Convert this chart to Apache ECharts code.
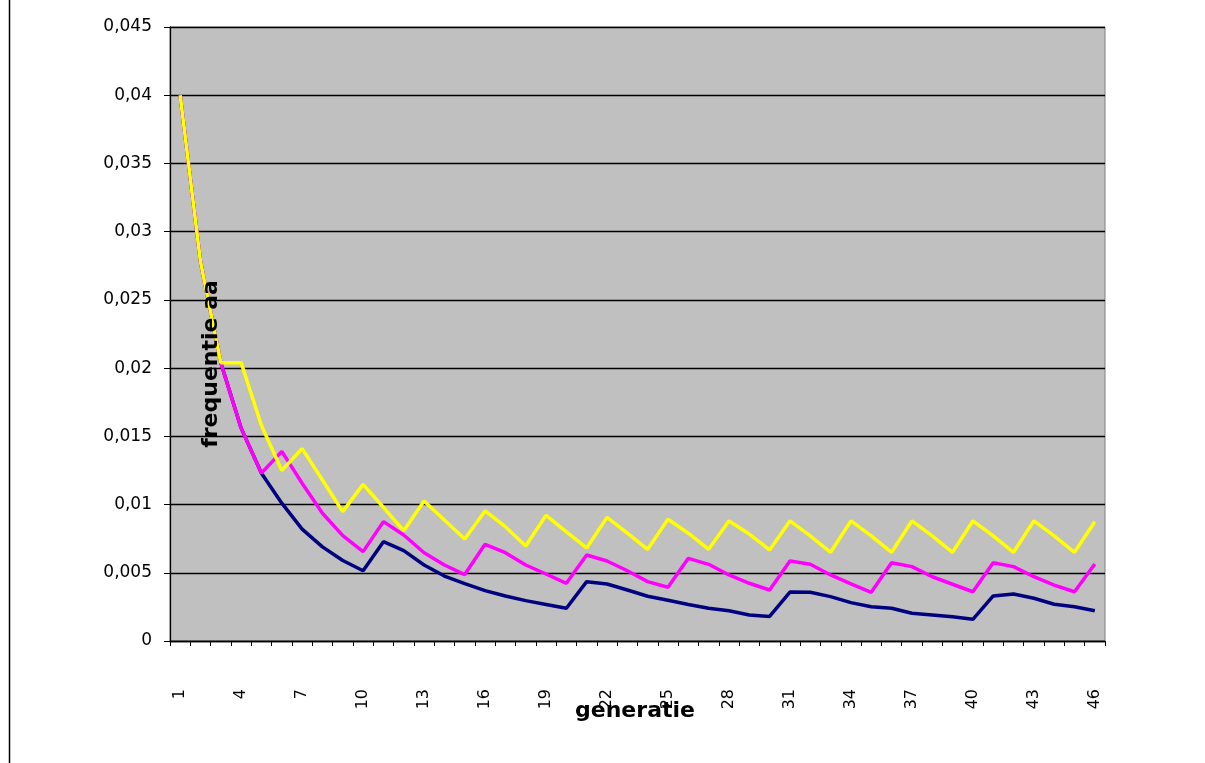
<!DOCTYPE html>
<html>
<head>
<meta charset="utf-8">
<script src="https://cdn.jsdelivr.net/npm/echarts@6/dist/echarts.min.js"></script>
<style>html,body{margin:0;padding:0;background:#fff;}#c{width:1205px;height:763px;}</style>
</head>
<body>
<div id="c"></div>
<script>
const generations = ['1','2','3','4','5','6','7','8','9','10','11','12','13','14','15','16','17','18','19','20','21','22','23','24','25','26','27','28','29','30','31','32','33','34','35','36','37','38','39','40','41','42','43','44','45','46'];

const navySeries = [0.04,0.0278,0.0204,0.0156,0.0123,0.0101,0.0082,0.0069,0.0059,0.00515,
  0.00728,0.00662,0.00557,0.00476,0.0042,0.00369,0.0033,0.00296,0.00268,0.0024,
  0.00435,0.00418,0.00374,0.00328,0.00298,0.00268,0.0024,0.00222,0.00191,0.0018,
  0.00359,0.00357,0.00325,0.00281,0.00251,0.0024,0.00203,0.00191,0.00178,0.00159,
  0.0033,0.00344,0.00313,0.00269,0.00251,0.00222];

const magentaSeries = [0.04,0.0278,0.0204,0.0156,0.0123,0.0139,0.01156,0.00936,0.00772,0.00655,
  0.00875,0.00777,0.00647,0.00557,0.00487,0.00709,0.00647,0.00557,0.00491,0.00423,
  0.0063,0.00586,0.00515,0.00435,0.00394,0.00606,0.00562,0.00484,0.00423,0.00374,
  0.00586,0.00562,0.00484,0.00418,0.00357,0.00574,0.00545,0.00471,0.00416,0.00361,
  0.00574,0.00545,0.00471,0.0041,0.00361,0.00564];

const yellowSeries = [0.04,0.0278,0.0204,0.0204,0.0158,0.0125,0.0141,0.0118,0.00948,0.01148,
  0.0098,0.00808,0.01026,0.00887,0.00748,0.00953,0.00838,0.00696,0.00921,0.0080,
  0.00682,0.00906,0.0079,0.00672,0.00892,0.0079,0.00672,0.0088,0.00784,0.00667,
  0.0088,0.0077,0.0065,0.0088,0.0077,0.0065,0.0088,0.0077,0.0065,0.0088,
  0.0077,0.0065,0.0088,0.0077,0.0065,0.00874];

const yMin = 0, yMax = 0.045, yStep = 0.005;
const xTitle = 'generatie';
const yTitle = 'frequentie aa';

const chart = echarts.init(document.getElementById('c'), null, {renderer: 'canvas'});
const FONT = 'DejaVu Sans';
function line(name, data, color) {
  return {
    name: name, type: 'line', data: data, symbol: 'none', smooth: false,
    lineStyle: {color: color, width: 3.5}, itemStyle: {color: color},
    animation: false
  };
}
chart.setOption({
  backgroundColor: '#ffffff',
  animation: false,
  grid: {left: 170, right: 100, top: 27, bottom: 122, show: true,
         backgroundColor: '#C0C0C0', borderColor: '#808080', borderWidth: 1},
  xAxis: {
    type: 'category', data: generations, boundaryGap: true,
    axisLine: {show: true, lineStyle: {color: '#000', width: 1.3}},
    axisTick: {show: true, interval: 0, length: 5, inside: false, lineStyle: {color: '#000'}},
    axisLabel: {interval: 2, rotate: 90, margin: 48, fontFamily: FONT, fontSize: 16, color: '#000'},
    splitLine: {show: false}
  },
  yAxis: {
    type: 'value', min: yMin, max: yMax, interval: yStep,
    axisLine: {show: true, lineStyle: {color: '#000', width: 1.3}},
    axisTick: {show: true, length: 6, inside: false, lineStyle: {color: '#000'}},
    axisLabel: {margin: 18, fontFamily: FONT, fontSize: 17, color: '#000',
      formatter: v => v === 0 ? '0' : String(+v.toFixed(3)).replace('.', ',')},
    splitLine: {show: true, lineStyle: {color: '#000', width: 1.3}}
  },
  series: [
    line('navy', navySeries, '#000080'),
    line('magenta', magentaSeries, '#FF00FF'),
    line('yellow', yellowSeries, '#FFFF00')
  ],
  graphic: [
    {type: 'line', shape: {x1: 9.5, y1: 0, x2: 9.5, y2: 763}, style: {stroke: '#000', lineWidth: 1.5}, z: 100},
    {type: 'text', x: 211, y: 364, rotation: Math.PI / 2, z: 100,
     style: {text: yTitle, fontFamily: FONT, fontWeight: 'bold', fontSize: 22, fill: '#000',
             align: 'center', verticalAlign: 'middle'}},
    {type: 'text', x: 635, y: 711, z: 100,
     style: {text: xTitle, fontFamily: FONT, fontWeight: 'bold', fontSize: 22, fill: '#000',
             align: 'center', verticalAlign: 'middle'}}
  ]
});
</script>
</body>
</html>
